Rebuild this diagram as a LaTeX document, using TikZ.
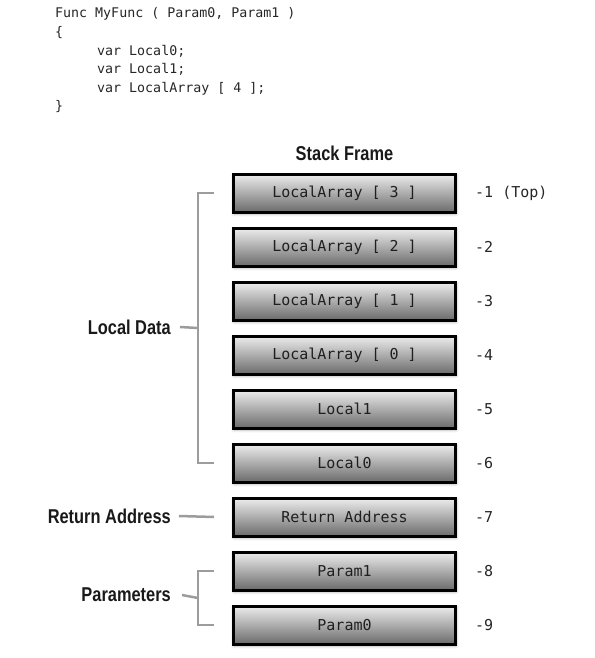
\documentclass[tikz,border=0pt]{standalone}
\usepackage{fontspec}
\usetikzlibrary{calc,positioning,shadows.blur}
\newfontfamily\codefont{DejaVu Sans Mono}
\newfontfamily\labelfont[FakeStretch=0.82]{Liberation Sans}
\definecolor{bracketgray}{HTML}{9C9C9C}
\tikzset{
  slot/.style={draw=black, line width=3pt, top color=black!7, bottom color=black!58,
    minimum width=222pt, minimum height=38pt, inner sep=0pt, text=black!88,
    font=\codefont\fontsize{15}{18}\selectfont,
    blur shadow={shadow xshift=0.5pt, shadow yshift=-1.5pt, shadow blur radius=3pt, shadow opacity=45}},
  offset/.style={inner sep=0pt, text=black!85, font=\codefont\fontsize{15}{18}\selectfont},
  codeline/.style={anchor=base west, inner sep=0pt, text=black!85, font=\codefont\fontsize{13.3}{16}\selectfont},
  sidelabel/.style={anchor=east, inner sep=0pt, text=black!90, font=\labelfont\bfseries\fontsize{20}{22}\selectfont},
  brace/.style={draw=bracketgray, line width=2.5pt}
}
\begin{document}
\begin{tikzpicture}[x=1pt, y=-1pt]
  \useasboundingbox (0,0) rectangle (594,658);

  % Source code
  \node[codeline] (code1) at (55,18) {Func MyFunc ( Param0, Param1 )};
  \node[codeline] (code2) at (55,36.6) {\{};
  \node[codeline] (code3) at (97,55.2) {var Local0;};
  \node[codeline] (code4) at (97,73.8) {var Local1;};
  \node[codeline] (code5) at (97,92.4) {var LocalArray [ 4 ];};
  \node[codeline] (code6) at (55,111) {\}};

  % Stack slots
  \node[slot] (la3) at (344.5,193) {LocalArray [ 3 ]};
  \node[slot, below=13pt of la3] (la2) {LocalArray [ 2 ]};
  \node[slot, below=13pt of la2] (la1) {LocalArray [ 1 ]};
  \node[slot, below=13pt of la1] (la0) {LocalArray [ 0 ]};
  \node[slot, below=13pt of la0] (loc1) {Local1};
  \node[slot, below=13pt of loc1] (loc0) {Local0};
  \node[slot, below=13pt of loc0] (ret) {Return Address};
  \node[slot, below=13pt of ret] (par1) {Param1};
  \node[slot, below=13pt of par1] (par0) {Param0};

  % Title
  \node[inner sep=0pt, text=black!90, font=\labelfont\bfseries\fontsize{20}{22}\selectfont, above=12pt of la3] (title) {Stack Frame};

  % Offsets
  \node[offset, right=18pt of la3] (n1) {-1 (Top)};
  \node[offset, right=18pt of la2] (n2) {-2};
  \node[offset, right=18pt of la1] (n3) {-3};
  \node[offset, right=18pt of la0] (n4) {-4};
  \node[offset, right=18pt of loc1] (n5) {-5};
  \node[offset, right=18pt of loc0] (n6) {-6};
  \node[offset, right=18pt of ret] (n7) {-7};
  \node[offset, right=18pt of par1] (n8) {-8};
  \node[offset, right=18pt of par0] (n9) {-9};

  % Brackets
  \draw[brace] ([xshift=-18pt]la3.west) -- ++(-16,0) |- ([xshift=-18pt]loc0.west);
  \coordinate (localmid) at ($(la3.west)!0.5!(loc0.west)+(-34,0)$);
  \draw[brace] ([xshift=-18pt]par1.west) -- ++(-16,0) |- ([xshift=-18pt]par0.west);
  \coordinate (parmid) at ($(par1.west)!0.5!(par0.west)+(-34,0)$);

  % Labels
  \node[sidelabel] (localdata) at (171,327) {Local Data};
  \node[sidelabel] (retaddr) at (171,516) {Return Address};
  \node[sidelabel] (params) at (171,595) {Parameters};
  \draw[brace] ([xshift=9pt]localdata.east) -- (localmid);
  \draw[brace] ([xshift=8pt]retaddr.east) -- ([xshift=-18pt]ret.west);
  \draw[brace] ([xshift=11pt]params.east) -- (parmid);
\end{tikzpicture}
\end{document}
